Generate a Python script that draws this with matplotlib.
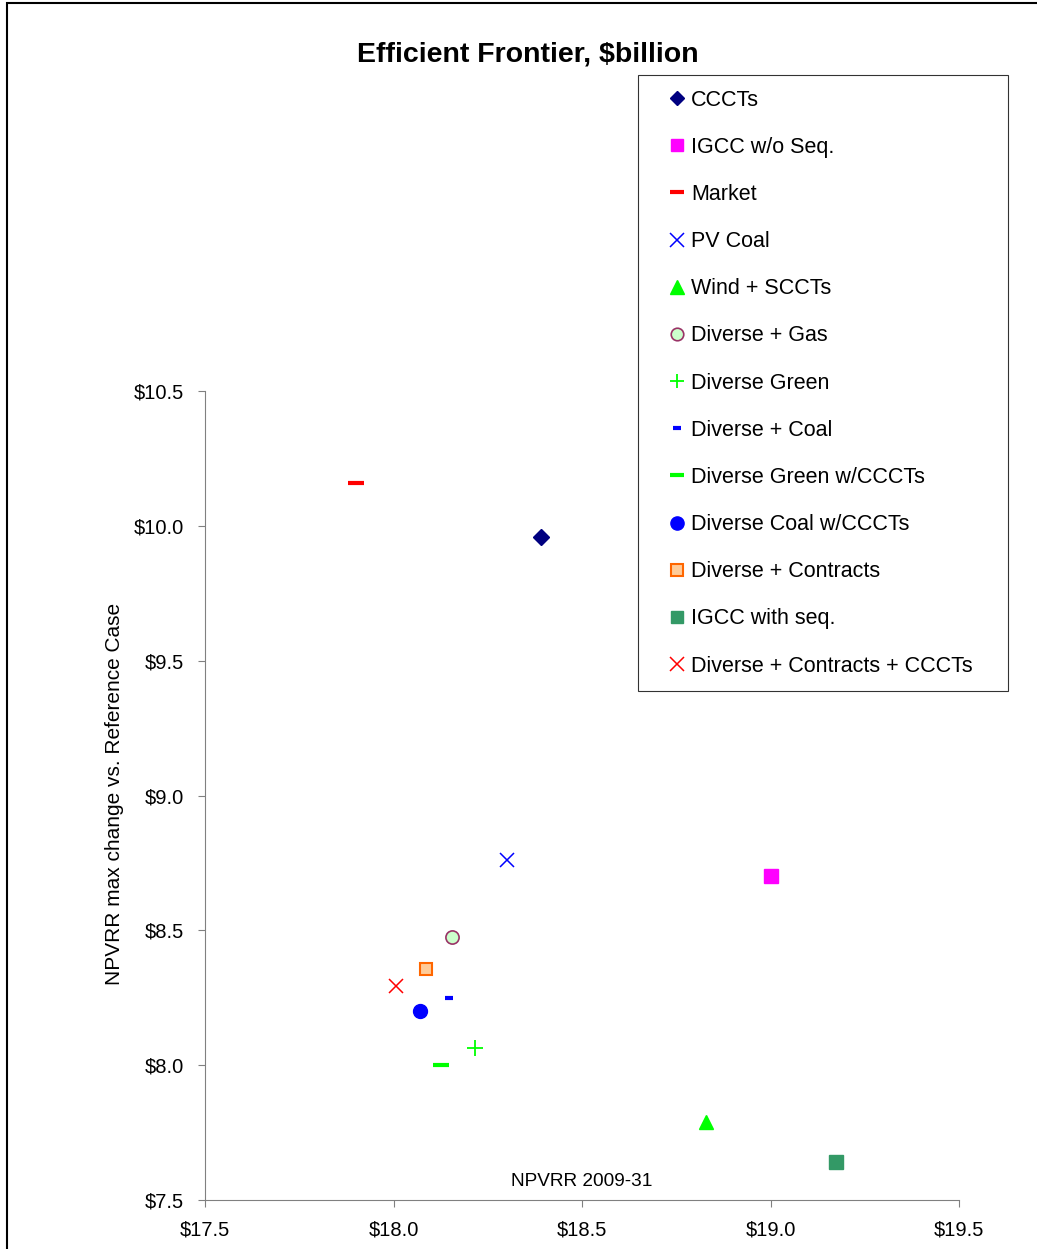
import matplotlib.pyplot as plt
from matplotlib.patches import Rectangle
from matplotlib.ticker import FuncFormatter

plt.rcParams['font.family'] = ['Liberation Sans', 'DejaVu Sans']

# Portfolio results: NPVRR 2009-31 vs max change in NPVRR ($billion)
names = ['CCCTs', 'IGCC w/o Seq.', 'Market', 'PV Coal', 'Wind + SCCTs',
         'Diverse + Gas', 'Diverse Green', 'Diverse + Coal',
         'Diverse Green w/CCCTs', 'Diverse Coal w/CCCTs',
         'Diverse + Contracts', 'IGCC with seq.', 'Diverse + Contracts + CCCTs']
npvrr = [18.39, 19.00, 17.90, 18.30, 18.83, 18.155, 18.215, 18.147,
         18.125, 18.07, 18.085, 19.175, 18.007]
max_change = [9.96, 8.70, 10.16, 8.76, 7.79, 8.475, 8.065, 8.25,
              8.00, 8.20, 8.355, 7.64, 8.295]

# marker, size, face, edge, edge width
styles = [
    ('D', 8, '#000080', '#000080', 1),
    ('s', 9.5, '#FF00FF', '#FF00FF', 1),
    ('_', 11, 'red', 'red', 3),
    ('x', 10, 'blue', 'blue', 1.1),
    ('^', 10, '#00FF00', '#00FF00', 1),
    ('o', 9.5, '#CCFFCC', '#993366', 1.2),
    ('+', 11, '#00FF00', '#00FF00', 1.3),
    ('_', 6, 'blue', 'blue', 3),
    ('_', 11, '#00FF00', '#00FF00', 3),
    ('o', 10, 'blue', 'blue', 1),
    ('s', 9, '#FFCC99', '#FF6600', 1.5),
    ('s', 9.5, '#339966', '#339966', 1),
    ('x', 10, 'red', 'red', 1.1),
]

fig = plt.figure(figsize=(10.37, 12.49), dpi=100)
ax = fig.add_axes([205 / 1037, 1 - 1200 / 1249, 754 / 1037, 809 / 1249])

for n, x, y, (m, ms, fc, ec, ew) in zip(names, npvrr, max_change, styles):
    ax.plot(x, y, linestyle='none', marker=m, markersize=ms,
            markerfacecolor=fc, markeredgecolor=ec, markeredgewidth=ew,
            label=n)

ax.set_xlim(17.5, 19.5)
ax.set_ylim(7.5, 10.5)
ax.set_xticks([17.5, 18.0, 18.5, 19.0, 19.5])
ax.set_yticks([7.5, 8.0, 8.5, 9.0, 9.5, 10.0, 10.5])
fmt = FuncFormatter(lambda v, p: '${:.1f}'.format(v))
ax.xaxis.set_major_formatter(fmt)
ax.yaxis.set_major_formatter(fmt)
ax.tick_params(labelsize=14.5, direction='out', length=5, color='#808080', pad=10)
for s in ['top', 'right']:
    ax.spines[s].set_visible(False)
for s in ['left', 'bottom']:
    ax.spines[s].set_color('#808080')

ax.text(18.5, 7.57, 'NPVRR 2009-31', ha='center', va='center', fontsize=13.7)

fig.text(115 / 1037, 1 - 794 / 1249, 'NPVRR max change vs. Reference Case',
         rotation=90, ha='center', va='center', fontsize=15)
fig.text(528 / 1037, 1 - 54 / 1249, 'Efficient Frontier, $billion',
         ha='center', va='center', fontsize=20.5, fontweight='bold')

leg = fig.legend(loc='upper left',
                 bbox_to_anchor=(638 / 1037, 1 - 689 / 1249, 370 / 1037, 614 / 1249),
                 mode='expand', fontsize=15.5, frameon=True, fancybox=False,
                 edgecolor='black', markerscale=0.95, handlelength=2.27,
                 handletextpad=-0.48, labelspacing=1.215, borderpad=0.68,
                 borderaxespad=0)
leg.get_frame().set_linewidth(0.8)

fig.patches.append(Rectangle((7 / 1037, -0.01), 1.1, 1 - 3 / 1249 + 0.01,
                             transform=fig.transFigure, fill=False,
                             edgecolor='black', linewidth=1.5))

fig.savefig('out.png', dpi=100)
